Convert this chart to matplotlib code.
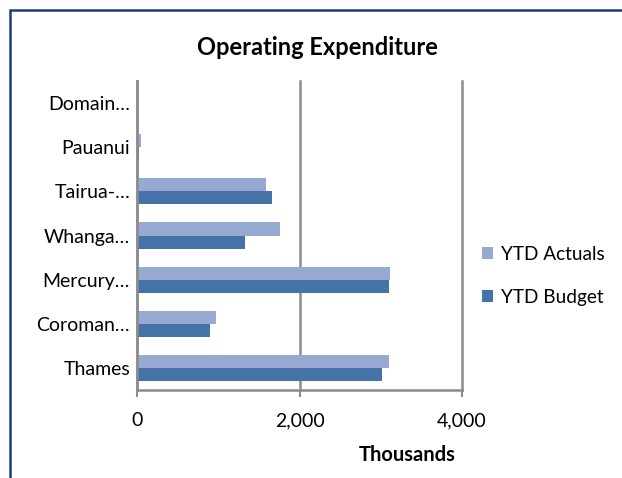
import matplotlib.pyplot as plt
import numpy as np
from matplotlib.patches import Rectangle

categories = ["Thames", "Coroman…", "Mercury…", "Whanga…", "Tairua-…", "Pauanui", "Domain…"]
ytd_actuals = [3097, 968, 3118, 1756, 1584, 50, 0]
ytd_budget = [3018, 902, 3102, 1329, 1657, 30, 0]

plt.rcParams["font.family"] = ["Lato", "DejaVu Sans"]

fig = plt.figure(figsize=(6.22, 4.78), dpi=100)
ax = fig.add_axes([0.2203, 0.1841, 0.5225, 0.6464])

y = np.arange(len(categories))
h = 0.295
ax.barh(y + h / 2, ytd_actuals, height=h, color="#95a9d1", label="YTD Actuals")
ax.barh(y - h / 2, ytd_budget, height=h, color="#4573a7", label="YTD Budget")

ax.set_xlim(0, 4000)
ax.set_ylim(-0.5, len(categories) - 0.5)
ax.set_xticks([0, 2000, 4000])
ax.set_xticklabels(["0", "2,000", "4,000"], fontsize=14)
ax.set_yticks(y)
ax.set_yticklabels(categories, fontsize=14)
ax.tick_params(axis="y", length=0, pad=5)
ax.tick_params(axis="x", length=5, color="#8c8c8c", width=1.5, pad=11)
ax.xaxis.grid(True, color="#8c8c8c", linewidth=1.8)
for gl in ax.get_xgridlines():
    gl.set_clip_on(False)
ax.set_axisbelow(True)
for s in ["top", "right"]:
    ax.spines[s].set_visible(False)
for s in ["left", "bottom"]:
    ax.spines[s].set_color("#8c8c8c")
    ax.spines[s].set_linewidth(1.8)

ax.set_xlabel("Thousands", fontsize=14.5, fontweight="bold")
ax.xaxis.set_label_coords(0.83, -0.177)

fig.text(0.511, 0.9, "Operating Expenditure", ha="center", va="center",
         fontsize=17, fontweight="bold")

fig.legend(loc="upper left", bbox_to_anchor=(0.747, 0.522), frameon=False,
           fontsize=13.7, handlelength=0.6, handleheight=0.6, labelspacing=1.38,
           handletextpad=0.4)

fig.patches.append(Rectangle((10 / 622, -0.1), 1.2, (478 - 10) / 478 + 0.1,
                             transform=fig.transFigure, fill=False,
                             edgecolor="#1f3b7a", linewidth=1.8))

fig.savefig("out.png", dpi=100)
